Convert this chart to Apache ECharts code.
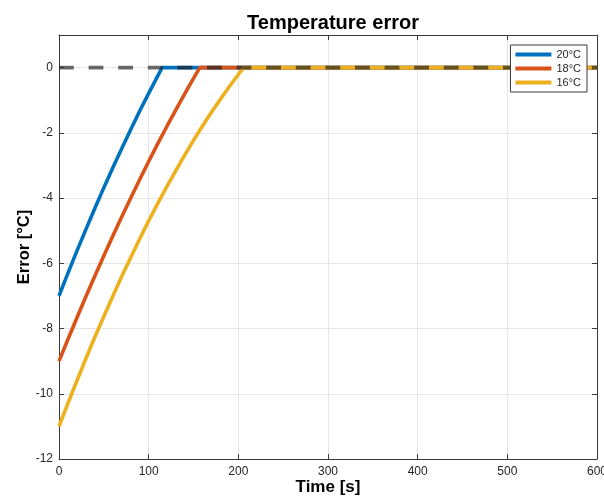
<!DOCTYPE html>
<html>
<head>
<meta charset="utf-8">
<script src="https://cdn.jsdelivr.net/npm/echarts@6/dist/echarts.min.js"></script>
<style>
  html, body { margin: 0; padding: 0; background: #fff; }
  #chart { width: 604px; height: 498px; }
</style>
</head>
<body>
<div id="chart"></div>
<script>
// Temperature error of three set-points, each ramping up to zero and then holding.
const seriesNames = ['20°C', '18°C', '16°C'];
const seriesColors = ['#0072BD', '#D95319', '#EDB120'];

const time20 = [0, 10, 20, 30, 40, 50, 60, 70, 80, 90, 100, 110, 115, 600];
const error20 = [-7, -6.30, -5.62, -4.96, -4.31, -3.68, -3.07, -2.48, -1.90, -1.33, -0.79, -0.26, 0, 0];

const time18 = [0, 10, 20, 30, 40, 50, 60, 70, 80, 90, 100, 110, 120, 130, 140, 150, 157, 600];
const error18 = [-9, -8.33, -7.67, -7.02, -6.39, -5.77, -5.16, -4.57, -4.00, -3.43, -2.88, -2.34, -1.82, -1.31, -0.81, -0.33, 0, 0];

const time16 = [0, 10, 20, 30, 40, 50, 60, 70, 80, 90, 100, 110, 120, 130, 140, 150, 160, 170, 180, 190, 200, 206, 600];
const error16 = [-11, -10.29, -9.60, -8.92, -8.26, -7.63, -7.01, -6.40, -5.82, -5.25, -4.70, -4.17, -3.66, -3.17, -2.69, -2.23, -1.79, -1.37, -0.97, -0.58, -0.21, 0, 0];

// zero-error reference
const refTime = [0, 600];
const refError = [0, 0];

const xTicks = { min: 0, max: 600, interval: 100 };
const yTicks = { min: -12, max: 1, interval: 2 };

const pairs = (xs, ys) => xs.map((x, i) => [x, ys[i]]);
const curves = [pairs(time20, error20), pairs(time18, error18), pairs(time16, error16)];

const axisColor = '#3a3a3a';
const textColor = '#262626';
const font = '"Liberation Sans", Arial, Helvetica, sans-serif';

const chart = echarts.init(document.getElementById('chart'), null, { renderer: 'canvas' });

const boxAxis = (extra) => Object.assign({
  type: 'value',
  axisLine: { show: true, onZero: false, lineStyle: { color: axisColor, width: 1 } },
  axisTick: { show: true, inside: true, length: 5, lineStyle: { color: axisColor } },
  axisLabel: { show: false },
  splitLine: { show: false },
  nameMoveOverlap: false
}, extra);

chart.setOption({
  animation: false,
  backgroundColor: '#ffffff',
  title: {
    text: 'Temperature error',
    left: 328,
    top: 8,
    textAlign: 'center',
    textStyle: { fontFamily: font, fontSize: 20, fontWeight: 'bold', color: '#000' }
  },
  grid: { left: 59, right: 7, top: 35, bottom: 39, containLabel: false, outerBoundsMode: 'none' },
  legend: {
    data: seriesNames,
    orient: 'vertical',
    right: 17,
    top: 45,
    icon: 'rect',
    itemWidth: 36,
    itemHeight: 4,
    itemGap: 1,
    padding: [3, 6, 3, 5],
    backgroundColor: '#ffffff',
    borderColor: '#3a3a3a',
    borderWidth: 1,
    borderRadius: 0,
    textStyle: { fontFamily: font, fontSize: 11, color: textColor, lineHeight: 13, padding: [0, 0, 0, 0] }
  },
  xAxis: [
    boxAxis({
      min: xTicks.min, max: xTicks.max, interval: xTicks.interval,
      position: 'bottom',
      name: 'Time [s]',
      nameLocation: 'middle',
      nameGap: 20,
      nameTextStyle: { fontFamily: font, fontSize: 17, fontWeight: 'bold', color: '#000', verticalAlign: 'top' },
      axisLabel: { show: true, margin: 7, fontFamily: font, fontSize: 12, color: textColor },
      splitLine: { show: true, lineStyle: { color: '#e6e6e6', width: 1 } }
    }),
    boxAxis({ min: xTicks.min, max: xTicks.max, interval: xTicks.interval, position: 'top' })
  ],
  yAxis: [
    boxAxis({
      min: yTicks.min, max: yTicks.max, interval: yTicks.interval,
      position: 'left',
      name: 'Error [°C]',
      nameLocation: 'middle',
      nameGap: 26,
      nameTextStyle: { fontFamily: font, fontSize: 16.5, fontWeight: 'bold', color: '#000' },
      axisLabel: { show: true, margin: 6, fontFamily: font, fontSize: 12, color: textColor, showMaxLabel: false },
      splitLine: { show: true, lineStyle: { color: '#e6e6e6', width: 1 } }
    }),
    boxAxis({ min: yTicks.min, max: yTicks.max, interval: yTicks.interval, position: 'right' })
  ],
  series: [
    ...curves.map((data, i) => ({
      name: seriesNames[i],
      type: 'line',
      data: data,
      showSymbol: false,
      symbol: 'none',
      color: seriesColors[i],
      lineStyle: { color: seriesColors[i], width: 3.6 },
      emphasis: { disabled: true }
    })),
    {
      name: 'reference',
      type: 'line',
      data: pairs(refTime, refError),
      showSymbol: false,
      symbol: 'none',
      lineStyle: { color: 'rgba(35,35,35,0.68)', width: 3.6, type: [14.8, 14.8] },
      emphasis: { disabled: true }
    }
  ]
});
</script>
</body>
</html>
